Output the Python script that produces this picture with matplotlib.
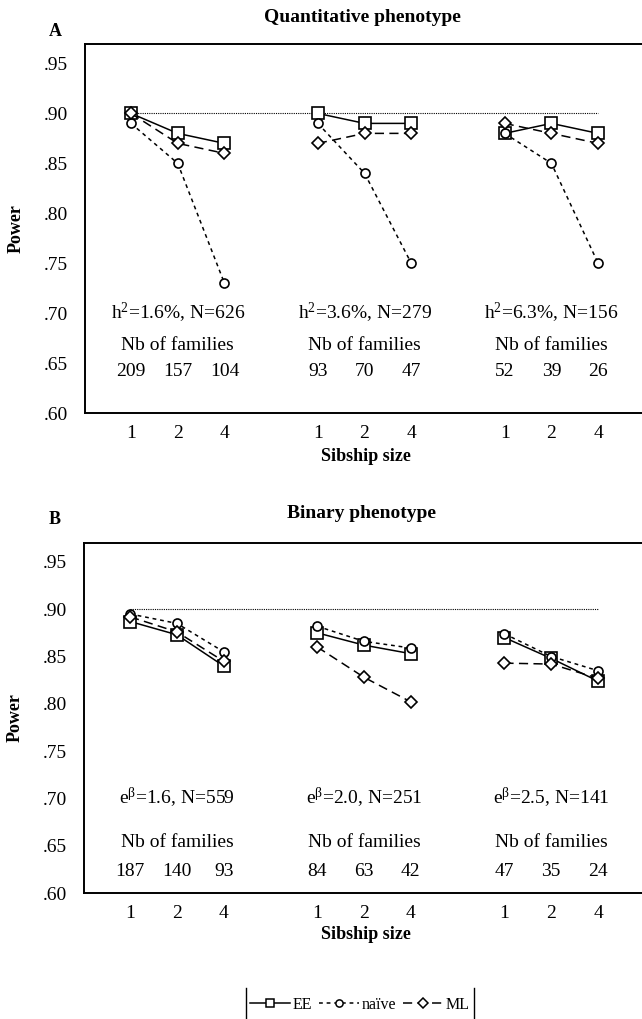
import matplotlib
matplotlib.use("Agg")
import matplotlib.pyplot as plt
from matplotlib.lines import Line2D

plt.rcParams['font.family'] = ['Liberation Serif', 'DejaVu Serif']
plt.rcParams['mathtext.fontset'] = 'custom'
plt.rcParams['mathtext.rm'] = 'Liberation Serif'
plt.rcParams['mathtext.it'] = 'Liberation Serif:italic'
plt.rcParams['mathtext.bf'] = 'Liberation Serif:bold'
plt.rcParams['mathtext.default'] = 'regular'

# ---------------- data ----------------
sib_labels = ["1", "2", "4"]
y_ticks = [0.60, 0.65, 0.70, 0.75, 0.80, 0.85, 0.90, 0.95]
y_tick_labels = [".60", ".65", ".70", ".75", ".80", ".85", ".90", ".95"]
target_power = 0.90

quant_groups = [r"h$^{2}$=1.6%, N=626", r"h$^{2}$=3.6%, N=279", r"h$^{2}$=6.3%, N=156"]
quant_families = [[209, 157, 104], [93, 70, 47], [52, 39, 26]]
quant_EE = [[0.90, 0.88, 0.87], [0.90, 0.89, 0.89], [0.88, 0.89, 0.88]]
quant_naive = [[0.89, 0.85, 0.73], [0.89, 0.84, 0.75], [0.88, 0.85, 0.75]]
quant_ML = [[0.90, 0.87, 0.86], [0.87, 0.88, 0.88], [0.89, 0.88, 0.87]]

bin_groups = [r"e$^{\beta}$=1.6, N=559", r"e$^{\beta}$=2.0, N=251", r"e$^{\beta}$=2.5, N=141"]
bin_families = [[187, 140, 93], [84, 63, 42], [47, 35, 24]]
bin_EE = [[0.887, 0.873, 0.840], [0.875, 0.862, 0.853], [0.870, 0.848, 0.824]]
bin_naive = [[0.895, 0.885, 0.855], [0.882, 0.866, 0.859], [0.874, 0.850, 0.835]]
bin_ML = [[0.892, 0.876, 0.845], [0.860, 0.828, 0.802], [0.843, 0.842, 0.827]]

series_names = ["EE", "naïve", "ML"]

# ---------------- styles ----------------
styles = {
    "EE": dict(linestyle='-', marker='s', markersize=8, lw=1.1),
    "naïve": dict(linestyle=(0, (2.5, 2.5)), marker='o', markersize=6.5, lw=1.1),
    "ML": dict(linestyle=(0, (6, 3.5)), marker='D', markersize=6, lw=1.1),
}

W, H = 642, 1019
fig = plt.figure(figsize=(W / 100, H / 100), dpi=100)

FS = 14


def make_panel(rect, ylim, letter_text, letter_y, title, title_y, groups, families,
               ee, naive, ml, label_ys):
    ax = fig.add_axes(rect)
    ax.set_xlim(-0.985, 10.94)
    ax.set_ylim(*ylim)
    xs_all = []
    for g in range(3):
        xs = [4 * g + i for i in range(3)]
        xs_all += xs
        for name, vals in zip(series_names, (ee, naive, ml)):
            ax.plot(xs, vals[g], color='black', markerfacecolor='white',
                    markeredgecolor='black', markeredgewidth=1.2,
                    clip_on=False, zorder=3, **styles[name])
        ax.text(xs[1], label_ys[0], groups[g], ha='center', va='center', fontsize=FS)
        ax.text(xs[1], label_ys[1], "Nb of families", ha='center', va='center', fontsize=FS)
        for x, n in zip(xs, families[g]):
            ax.text(x, label_ys[2], str(n), ha='center', va='center', fontsize=FS)
    ax.plot([xs_all[0], xs_all[-1]], [target_power, target_power], color='black',
            linestyle=(0, (1, 1)), lw=0.8, zorder=2)
    ax.set_xticks(xs_all)
    ax.set_xticklabels(sib_labels * 3, fontsize=FS)
    ax.set_yticks(y_ticks)
    ax.set_yticklabels(y_tick_labels, fontsize=FS)
    ax.tick_params(axis='both', length=0)
    ax.tick_params(axis='y', pad=12)
    ax.tick_params(axis='x', pad=9)
    for s in ['left', 'bottom', 'top']:
        ax.spines[s].set_linewidth(1.4)
    ax.spines['right'].set_visible(False)
    ax.set_ylabel("Power", fontsize=13, fontweight='bold')
    ax.yaxis.set_label_coords(-0.108, 0.5)
    ax.set_xlabel("Sibship size", fontsize=13, fontweight='bold')
    ax.xaxis.set_label_coords(0.505, -0.095)
    fig.text(55 / W, 1 - letter_y / H, letter_text,
             fontsize=13, fontweight='bold', ha='center', va='center')
    fig.text(362 / W, 1 - title_y / H, title, fontsize=14, fontweight='bold',
             ha='center', va='center')
    return ax


axA = make_panel([85 / W, 1 - 413 / H, 1 - 85 / W, (413 - 44) / H], (0.60, 0.9695),
                 "A", 31, "Quantitative phenotype", 17,
                 quant_groups, quant_families, quant_EE, quant_naive, quant_ML,
                 (0.700, 0.668, 0.642))
axB = make_panel([84 / W, 1 - 893 / H, 1 - 84 / W, (893 - 543) / H], (0.60, 0.970),
                 "B", 520, "Binary phenotype", 513,
                 bin_groups, bin_families, bin_EE, bin_naive, bin_ML,
                 (0.700, 0.653, 0.623))

handles = [Line2D([], [], color='black', markerfacecolor='white', markeredgecolor='black',
                  markeredgewidth=1.1, **styles[n]) for n in series_names]
for h in handles:
    h.set_markersize(h.get_markersize() * 0.8)
leg = fig.legend(handles, series_names, loc='center', bbox_to_anchor=(360 / W, 1 - 1005 / H),
                 ncol=3, frameon=False, fontsize=11.5, handlelength=2.5, handletextpad=0.2,
                 columnspacing=0.4, borderpad=0.1, borderaxespad=0)
fig.canvas.draw()
bb = leg.get_window_extent()
for xb in (bb.x0 - 2, bb.x1 + 2):
    fig.add_artist(Line2D([xb / W, xb / W], [0, 1 - 988 / H], color='black', lw=1.0))

fig.savefig("out.png", dpi=100)
